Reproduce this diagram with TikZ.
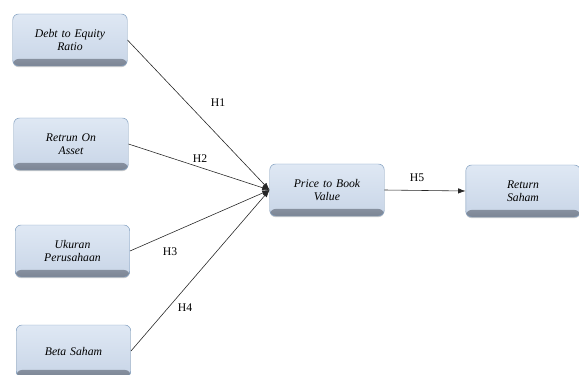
\documentclass[tikz,border=0pt]{standalone}
\usepackage{fontspec}
\setmainfont{Liberation Serif}
\usepackage{xcolor}
\usepackage{tikz}
\usetikzlibrary{arrows.meta,shadows}
\definecolor{boxedge}{HTML}{7F9DBE}
\definecolor{boxtop}{HTML}{DFE8F4}
\definecolor{boxbot}{HTML}{C8D5E7}
\definecolor{boxdark}{HTML}{7C8594}
\tikzset{
  var/.style={
    rectangle,
    rounded corners=5pt,
    draw=boxedge,
    top color=boxtop,
    bottom color=boxbot,
    path picture={
      \shade[top color=boxbot, bottom color=boxdark]
        (path picture bounding box.south west)
        rectangle ([yshift=6pt]path picture bounding box.south east);
    },
    drop shadow={shadow xshift=0pt, shadow yshift=-1pt, fill=black!35, opacity=0.6},
    thin,
    minimum width=3.42cm,
    minimum height=1.56cm,
    text width=3.2cm,
    align=center,
    font=\fontsize{10}{11.5}\selectfont\itshape
  },
  hyp/.style={font=\fontsize{10}{12}\selectfont},
  arrow/.style={-{Latex[length=2.2mm,width=1.6mm]}, draw=black!85, line width=0.5pt}
}

\begin{document}
\begin{tikzpicture}

\useasboundingbox (0,0) rectangle (17.37,11.22);

\node[var] (der) at (2.1,10.02) {Debt to Equity\\Ratio};
\node[var] (roa) at (2.13,6.9) {Retrun On\\Asset};
\node[var] (size) at (2.175,3.69) {Ukuran\\Perusahaan};
\node[var] (beta) at (2.205,0.69) {Beta Saham};

\node[var] (pbv) at (9.81,5.52) {Price to Book\\Value};
\node[var] (ret) at (15.69,5.49) {Return\\Saham};

\draw[arrow] (der.east) -- (pbv.west);
\draw[arrow] (roa.east) -- (pbv.west);
\draw[arrow] (size.east) -- (pbv.west);
\draw[arrow] (beta.east) -- (pbv.west);
\draw[arrow] (pbv.east) -- (ret.west);

\node[hyp] (h1) at (6.54,8.13) {H1};
\node[hyp] (h2) at (6.0,6.45) {H2};
\node[hyp] (h3) at (5.1,3.66) {H3};
\node[hyp] (h4) at (5.55,1.98) {H4};
\node[hyp] (h5) at (12.51,5.88) {H5};

\end{tikzpicture}
\end{document}
